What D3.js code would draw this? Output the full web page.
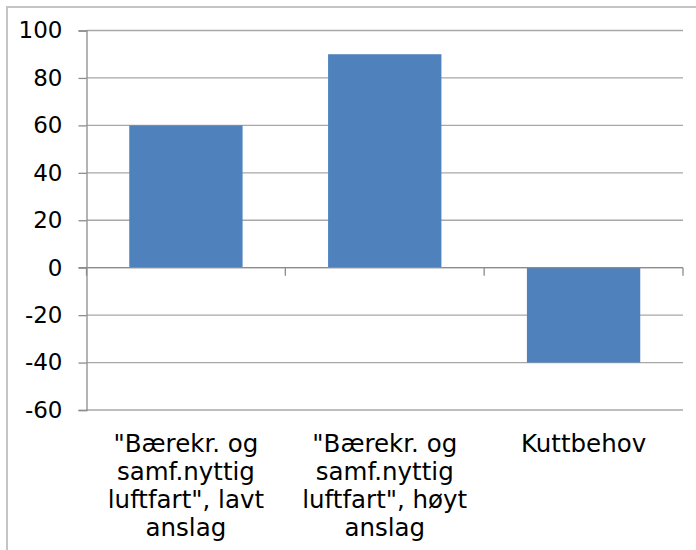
<!DOCTYPE html>
<html>
<head>
<meta charset="utf-8">
<script src="https://cdn.jsdelivr.net/npm/d3@7"></script>
<style>
  html, body { margin: 0; padding: 0; background: #fff; }
  svg { display: block; }
  text { font-family: "DejaVu Sans", Verdana, sans-serif; fill: #000; }
</style>
</head>
<body>
<svg id="chart" width="696" height="550"></svg>
<script>
const categories = [
  ["\"Bærekr. og", "samf.nyttig", "luftfart\", lavt", "anslag"],
  ["\"Bærekr. og", "samf.nyttig", "luftfart\", høyt", "anslag"],
  ["Kuttbehov"]
];
const categoryKeys = ["lavt", "hoyt", "kutt"];
const values = [60, 90, -40];
const yTicks = [-60, -40, -20, 0, 20, 40, 60, 80, 100];

(function () {
const svg = d3.select("#chart");
const W = 696, H = 550;
const plotLeft = 86.5, plotRight = 683, plotTop = 30.5, plotBottom = 410;

// outer frame (left and top edges visible)
svg.append("path")
  .attr("d", `M7,${H} L7,7 L${W},7`)
  .attr("fill", "none")
  .attr("stroke", "#c4c4c4")
  .attr("stroke-width", 2);

const y = d3.scaleLinear().domain([-60, 100]).range([plotBottom, plotTop]);
const x = d3.scaleBand().domain(categoryKeys).range([plotLeft, plotRight]).padding(0);

// gridlines
svg.append("g")
  .selectAll("line")
  .data(yTicks)
  .join("line")
  .attr("x1", plotLeft).attr("x2", plotRight)
  .attr("y1", d => y(d)).attr("y2", d => y(d))
  .attr("stroke", "#a8a8a8")
  .attr("stroke-width", 1.3);

// bars
const barFrac = 0.57;
svg.append("g")
  .selectAll("rect")
  .data(values)
  .join("rect")
  .attr("x", (d, i) => x(categoryKeys[i]) + x.bandwidth() * (1 - barFrac) / 2)
  .attr("width", x.bandwidth() * barFrac)
  .attr("y", d => y(Math.max(0, d)))
  .attr("height", d => Math.abs(y(d) - y(0)))
  .attr("fill", "#4f81bd");

// y axis
const yAxis = svg.append("g")
  .attr("transform", `translate(${plotLeft},0)`)
  .call(d3.axisLeft(y).tickValues(yTicks).tickFormat(d => String(d)).tickSize(8).tickPadding(16));
yAxis.select(".domain").attr("stroke", "#8c8c8c").attr("stroke-width", 1.3);
yAxis.selectAll(".tick line").attr("stroke", "#8c8c8c").attr("stroke-width", 1.3);
yAxis.selectAll(".tick text")
  .attr("font-size", 23)
  .attr("font-family", "DejaVu Sans, Verdana, sans-serif")
  .attr("fill", "#000");

// x axis at zero
const xAxisG = svg.append("g").attr("transform", `translate(0,${y(0)})`);
xAxisG.append("line")
  .attr("x1", plotLeft - 8).attr("x2", plotRight)
  .attr("stroke", "#8c8c8c").attr("stroke-width", 1.3);
const boundaries = categoryKeys.map(k => x(k)).concat([x(categoryKeys[categoryKeys.length - 1]) + x.bandwidth()]);
xAxisG.selectAll("line.ctick")
  .data(boundaries)
  .join("line")
  .attr("class", "ctick")
  .attr("x1", d => d).attr("x2", d => d)
  .attr("y1", 0).attr("y2", 8)
  .attr("stroke", "#8c8c8c").attr("stroke-width", 1.3);

// category labels
const labelG = svg.append("g");
categories.forEach((lines, i) => {
  const cx = x(categoryKeys[i]) + x.bandwidth() / 2;
  const t = labelG.append("text")
    .attr("text-anchor", "middle")
    .attr("font-size", 24.5);
  lines.forEach((ln, j) => {
    t.append("tspan").attr("x", cx).attr("y", 451.5 + j * 28).text(ln);
  });
});
})();
</script>
</body>
</html>
